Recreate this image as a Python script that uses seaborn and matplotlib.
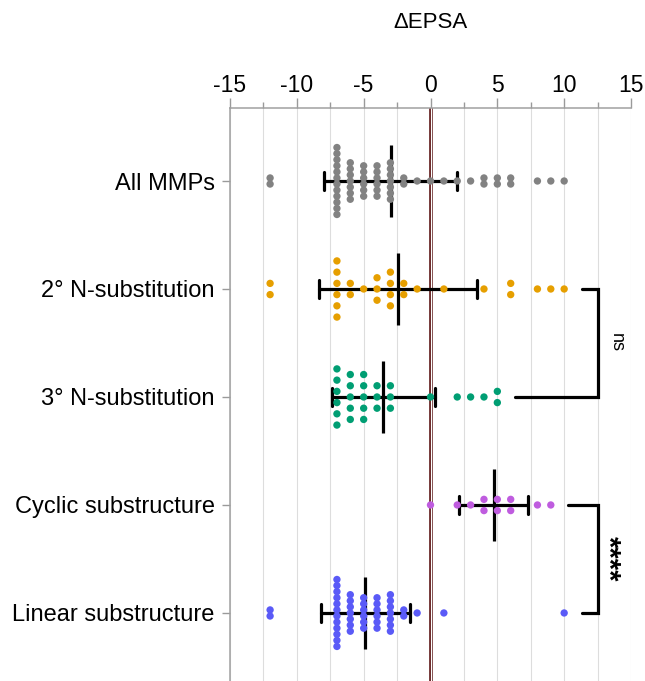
import numpy as np
import pandas as pd
import matplotlib
matplotlib.use("Agg")
import matplotlib.pyplot as plt
import seaborn as sns

# %%
# data: every MMP has an integer dEPSA, kept as value -> count per group
groups = ["All MMPs", "2° N-substitution", "3° N-substitution",
          "Cyclic substructure", "Linear substructure"]
colours = ["#828282", "#E69F00", "#009E73", "#BF5CDF", "#5A5AF7"]

values     = [-12, -7, -6, -5, -4, -3, -2, -1, 0, 1, 2, 3, 4, 5, 6, 8, 9, 10]
counts_all = [  2, 12,  7,  6,  6,  7,  2,  1, 1, 1, 1, 1, 2, 2, 2, 1, 1, 1]
counts_sec = [  2,  6,  2,  1,  3,  4,  2,  1, 0, 1, 0, 0, 1, 0, 2, 1, 1, 1]
counts_ter = [  0,  6,  5,  5,  3,  3,  0,  0, 1, 0, 1, 1, 1, 2, 0, 0, 0, 0]
counts_cyc = [  0,  0,  0,  0,  0,  0,  0,  0, 1, 0, 1, 1, 2, 2, 2, 1, 1, 0]
counts_lin = [  2, 12,  7,  6,  6,  7,  2,  1, 0, 1, 0, 0, 0, 0, 0, 0, 0, 1]

# significance brackets: (row a, row b, label)
brackets = [(1, 2, "ns"), (3, 4, "****")]

# %%
counts = [counts_all, counts_sec, counts_ter, counts_cyc, counts_lin]
df = pd.concat([pd.DataFrame({"group": g, "dEPSA": np.repeat(values, c)})
                for g, c in zip(groups, counts)], ignore_index=True)

# stack equal values in a centred column (Prism style scatter dot plot)
grp = df.groupby(["group", "dEPSA"])["dEPSA"]
df["n"] = grp.transform("size")
df["k"] = grp.cumcount()
max_n = df.groupby("group")["n"].transform("max")
step = np.minimum(0.104, 0.62 / (max_n - 1).clip(lower=1))
df["y"] = df["group"].map({g: i for i, g in enumerate(groups)}) \
    + (df["k"] - (df["n"] - 1) / 2) * step

# %%
sns.set_theme(style="white")
plt.rcParams["font.family"] = ["Liberation Sans", "DejaVu Sans"]
plt.rcParams["axes.unicode_minus"] = False
plt.rcParams["text.color"] = "black"
plt.rcParams["xtick.labelcolor"] = "black"
plt.rcParams["ytick.labelcolor"] = "black"

fig = plt.figure(figsize=(6.45, 6.81), dpi=100)
ax = fig.add_axes([230 / 645, 0, 401 / 645, 573 / 681])

sns.pointplot(data=df, x="dEPSA", y="group", order=groups, orient="h",
              errorbar="sd", color="black", linestyle="none", marker="|",
              markersize=52, markeredgewidth=2.3, capsize=0.17,
              err_kws={"linewidth": 2.3}, ax=ax)

sns.scatterplot(data=df, x="dEPSA", y="y", hue="group", hue_order=groups,
                palette=colours, s=28, linewidth=0, legend=False,
                ax=ax, zorder=3)

# zero line (double)
ax.axvline(0, color="#5A1212", lw=2.6, zorder=1.5)
ax.axvline(0, color="white", lw=0.9, zorder=1.6)

# brackets
maxima = df.groupby("group")["dEPSA"].max()
for a, b, lab in brackets:
    xa = maxima[groups[a]] + 1.3
    xb = maxima[groups[b]] + 1.3
    ax.plot([xa, 12.5, 12.5, xb], [a, a, b, b], color="black", lw=2.3,
            solid_joinstyle="miter", zorder=4)
    if lab == "ns":
        ax.text(13.9, (a + b) / 2, lab, rotation=270, ha="center",
                va="center", fontsize=13)
    else:
        ax.text(13.3, (a + b) / 2, lab, rotation=270, ha="center",
                va="center", fontsize=21, fontweight="bold")

# axes styling
ax.set_xlim(-15, 15)
ax.set_ylim(4.63, -0.676)
ax.set_xticks(np.arange(-15, 16, 5))
ax.set_xticks(np.arange(-12.5, 15, 5), minor=True)
ax.set_yticks(range(len(groups)))
ax.set_yticklabels(groups)
ax.xaxis.tick_top()
ax.grid(axis="x", which="both", color="#dddddd", lw=0.8, zorder=0)
ax.set_axisbelow(True)
ax.tick_params(axis="x", which="major", length=7, width=1, color="#9a9a9a",
               labelsize=16.5, pad=1, top=True, bottom=False,
               labelcolor="black")
ax.tick_params(axis="x", which="minor", length=4, width=1, color="#9a9a9a",
               top=True, bottom=False)
ax.tick_params(axis="y", length=6, width=1, color="#9a9a9a",
               labelsize=17, pad=5, left=True, labelcolor="black")
for side in ["right", "bottom"]:
    ax.spines[side].set_visible(False)
for side in ["top", "left"]:
    ax.spines[side].set_color("#a0a0a0")
    ax.spines[side].set_linewidth(1.1)
ax.set_xlabel("")
ax.set_ylabel("")

fig.text(430 / 645, 1 - 23 / 681, "ΔEPSA", ha="center", va="center",
         fontsize=16, color="black")

fig.savefig("out.png", dpi=100)
